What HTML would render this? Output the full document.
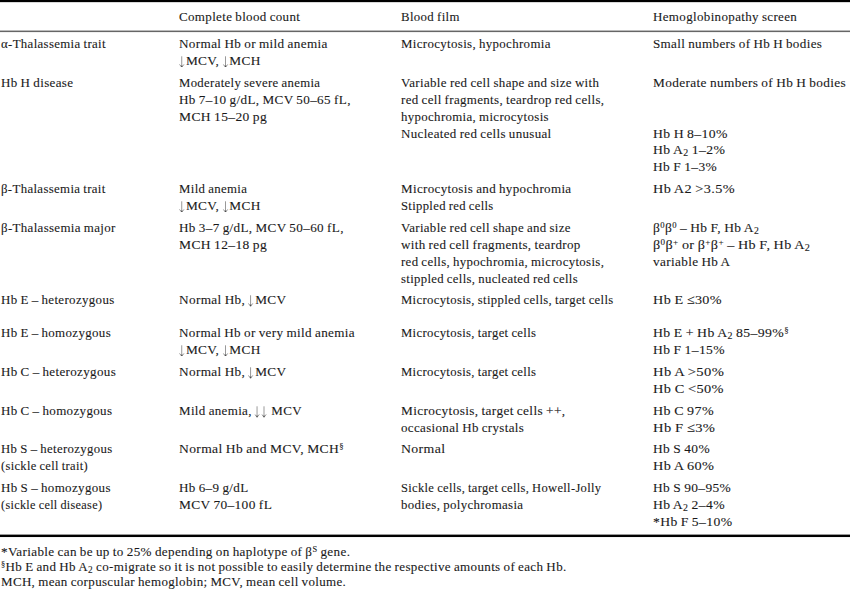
<!DOCTYPE html>
<html><head><meta charset="utf-8"><style>
html,body{margin:0;padding:0;background:#fff;}
body{width:850px;height:589px;position:relative;overflow:hidden;font-family:"Liberation Serif",serif;color:#1a1a1a;}
.l{position:absolute;white-space:nowrap;line-height:1;letter-spacing:0.35px;word-spacing:-0.6px;-webkit-text-stroke:0.1px #1a1a1a;transform-origin:0 0;}
.r{position:absolute;left:0;width:850px;background:#111;}
.ar{display:inline-block;vertical-align:-2.4px;margin-right:0.2px}
sub{font-size:0.72em;vertical-align:-0.25em;line-height:0;}
sup{font-size:0.64em;vertical-align:0.45em;line-height:0;}
</style></head><body>
<div class="r" style="top:0;height:2px;background:#000"></div>
<div class="r" style="top:2px;height:1px;background:#d8d8d8"></div>
<div class="r" style="top:30px;height:1px;background:#bbb"></div>
<div class="r" style="top:31px;height:1px;background:#666"></div>
<div class="r" style="top:32px;height:1px;background:#f0f0f0"></div>
<div class="r" style="top:534px;height:1px;background:#999"></div>
<div class="r" style="top:535px;height:2px;background:#000"></div>
<div class="r" style="top:537px;height:1px;background:#f4f4f4"></div>
<div class="l" style="left:179.3px;top:10.13px;font-size:13.1px;transform:scaleX(0.9926)">Complete blood count</div>
<div class="l" style="left:400.5px;top:10.13px;font-size:13.1px;transform:scaleX(0.9798)">Blood film</div>
<div class="l" style="left:652.9px;top:10.13px;font-size:13.1px;transform:scaleX(0.9924)">Hemoglobinopathy screen</div>
<div class="l" style="left:1.0px;top:37.13px;font-size:13.1px;transform:scaleX(0.9794)">α-Thalassemia trait</div>
<div class="l" style="left:179.3px;top:37.13px;font-size:13.1px;transform:scaleX(1.0061)">Normal Hb or mild anemia</div>
<div class="l" style="left:179.3px;top:53.98px;font-size:13.1px;transform:scaleX(1.0178)"><svg class="ar" width="6.6" height="11.5" viewBox="0 0 6.6 11.5"><path d="M2.7 0.3V11.2M0.5 8.4L2.7 11.3L4.9 8.4" stroke="#777" stroke-width="0.75" fill="none"/><path d="M1.7 9.7H3.7L2.7 11.3Z" fill="#444"/></svg>MCV, <svg class="ar" width="6.6" height="11.5" viewBox="0 0 6.6 11.5"><path d="M2.7 0.3V11.2M0.5 8.4L2.7 11.3L4.9 8.4" stroke="#777" stroke-width="0.75" fill="none"/><path d="M1.7 9.7H3.7L2.7 11.3Z" fill="#444"/></svg>MCH</div>
<div class="l" style="left:400.5px;top:37.13px;font-size:13.1px;transform:scaleX(0.9842)">Microcytosis, hypochromia</div>
<div class="l" style="left:652.9px;top:37.13px;font-size:13.1px">Small numbers of Hb H bodies</div>
<div class="l" style="left:1.0px;top:76.13px;font-size:13.1px;transform:scaleX(0.9931)">Hb H disease</div>
<div class="l" style="left:179.3px;top:76.13px;font-size:13.1px;transform:scaleX(0.9724)">Moderately severe anemia</div>
<div class="l" style="left:179.3px;top:92.98px;font-size:13.1px;transform:scaleX(1.0047)">Hb 7–10 g/dL, MCV 50–65 fL,</div>
<div class="l" style="left:179.3px;top:109.83px;font-size:13.1px;transform:scaleX(1.0335)">MCH 15–20 pg</div>
<div class="l" style="left:400.5px;top:76.13px;font-size:13.1px;transform:scaleX(0.9885)">Variable red cell shape and size with</div>
<div class="l" style="left:400.5px;top:92.98px;font-size:13.1px;transform:scaleX(0.9878)">red cell fragments, teardrop red cells,</div>
<div class="l" style="left:400.5px;top:109.83px;font-size:13.1px;transform:scaleX(0.9814)">hypochromia, microcytosis</div>
<div class="l" style="left:400.5px;top:126.68px;font-size:13.1px;transform:scaleX(0.9907)">Nucleated red cells unusual</div>
<div class="l" style="left:652.9px;top:76.13px;font-size:13.1px;transform:scaleX(1.0164)">Moderate numbers of Hb H bodies</div>
<div class="l" style="left:652.9px;top:126.68px;font-size:13.1px;transform:scaleX(1.0478)">Hb H 8–10%</div>
<div class="l" style="left:652.9px;top:142.93px;font-size:13.1px;transform:scaleX(1.0485)">Hb A<sub>2</sub> 1–2%</div>
<div class="l" style="left:652.9px;top:160.38px;font-size:13.1px;transform:scaleX(1.0274)">Hb F 1–3%</div>
<div class="l" style="left:1.0px;top:182.13px;font-size:13.1px;transform:scaleX(0.9794)">β-Thalassemia trait</div>
<div class="l" style="left:179.3px;top:182.13px;font-size:13.1px;transform:scaleX(0.9785)">Mild anemia</div>
<div class="l" style="left:179.3px;top:198.98px;font-size:13.1px;transform:scaleX(1.0178)"><svg class="ar" width="6.6" height="11.5" viewBox="0 0 6.6 11.5"><path d="M2.7 0.3V11.2M0.5 8.4L2.7 11.3L4.9 8.4" stroke="#777" stroke-width="0.75" fill="none"/><path d="M1.7 9.7H3.7L2.7 11.3Z" fill="#444"/></svg>MCV, <svg class="ar" width="6.6" height="11.5" viewBox="0 0 6.6 11.5"><path d="M2.7 0.3V11.2M0.5 8.4L2.7 11.3L4.9 8.4" stroke="#777" stroke-width="0.75" fill="none"/><path d="M1.7 9.7H3.7L2.7 11.3Z" fill="#444"/></svg>MCH</div>
<div class="l" style="left:400.5px;top:182.13px;font-size:13.1px;transform:scaleX(0.9941)">Microcytosis and hypochromia</div>
<div class="l" style="left:400.5px;top:198.98px;font-size:13.1px;transform:scaleX(0.9644)">Stippled red cells</div>
<div class="l" style="left:652.9px;top:182.13px;font-size:13.1px;transform:scaleX(1.0904)">Hb A2 &gt;3.5%</div>
<div class="l" style="left:1.0px;top:221.13px;font-size:13.1px;transform:scaleX(0.9853)">β-Thalassemia major</div>
<div class="l" style="left:179.3px;top:221.13px;font-size:13.1px;transform:scaleX(1.0043)">Hb 3–7 g/dL, MCV 50–60 fL,</div>
<div class="l" style="left:179.3px;top:237.98px;font-size:13.1px;transform:scaleX(1.0335)">MCH 12–18 pg</div>
<div class="l" style="left:400.5px;top:221.13px;font-size:13.1px;transform:scaleX(0.9826)">Variable red cell shape and size</div>
<div class="l" style="left:400.5px;top:237.98px;font-size:13.1px;transform:scaleX(0.9961)">with red cell fragments, teardrop</div>
<div class="l" style="left:400.5px;top:254.83px;font-size:13.1px;transform:scaleX(0.9792)">red cells, hypochromia, microcytosis,</div>
<div class="l" style="left:400.5px;top:271.68px;font-size:13.1px;transform:scaleX(0.9697)">stippled cells, nucleated red cells</div>
<div class="l" style="left:652.9px;top:221.13px;font-size:13.1px;transform:scaleX(1.0313)">β<sup>0</sup>β<sup>0</sup> – Hb F, Hb A<sub>2</sub></div>
<div class="l" style="left:652.9px;top:237.98px;font-size:13.1px;transform:scaleX(1.0826)">β<sup>0</sup>β<sup>+</sup> or β<sup>+</sup>β<sup>+</sup> – Hb F, Hb A<sub>2</sub></div>
<div class="l" style="left:652.9px;top:254.83px;font-size:13.1px;transform:scaleX(1.0092)">variable Hb A</div>
<div class="l" style="left:1.0px;top:293.13px;font-size:13.1px;transform:scaleX(0.9877)">Hb E – heterozygous</div>
<div class="l" style="left:179.3px;top:293.13px;font-size:13.1px;transform:scaleX(1.0123)">Normal Hb, <svg class="ar" width="6.6" height="11.5" viewBox="0 0 6.6 11.5"><path d="M2.7 0.3V11.2M0.5 8.4L2.7 11.3L4.9 8.4" stroke="#777" stroke-width="0.75" fill="none"/><path d="M1.7 9.7H3.7L2.7 11.3Z" fill="#444"/></svg>MCV</div>
<div class="l" style="left:400.5px;top:293.13px;font-size:13.1px;transform:scaleX(0.9693)">Microcytosis, stippled cells, target cells</div>
<div class="l" style="left:652.9px;top:293.13px;font-size:13.1px;transform:scaleX(1.0840)">Hb E ≤30%</div>
<div class="l" style="left:1.0px;top:326.13px;font-size:13.1px;transform:scaleX(0.9874)">Hb E – homozygous</div>
<div class="l" style="left:179.3px;top:326.13px;font-size:13.1px;transform:scaleX(1.0029)">Normal Hb or very mild anemia</div>
<div class="l" style="left:179.3px;top:342.98px;font-size:13.1px;transform:scaleX(1.0178)"><svg class="ar" width="6.6" height="11.5" viewBox="0 0 6.6 11.5"><path d="M2.7 0.3V11.2M0.5 8.4L2.7 11.3L4.9 8.4" stroke="#777" stroke-width="0.75" fill="none"/><path d="M1.7 9.7H3.7L2.7 11.3Z" fill="#444"/></svg>MCV, <svg class="ar" width="6.6" height="11.5" viewBox="0 0 6.6 11.5"><path d="M2.7 0.3V11.2M0.5 8.4L2.7 11.3L4.9 8.4" stroke="#777" stroke-width="0.75" fill="none"/><path d="M1.7 9.7H3.7L2.7 11.3Z" fill="#444"/></svg>MCH</div>
<div class="l" style="left:400.5px;top:326.13px;font-size:13.1px;transform:scaleX(0.9692)">Microcytosis, target cells</div>
<div class="l" style="left:652.9px;top:326.13px;font-size:13.1px;transform:scaleX(1.0539)">Hb E + Hb A<sub>2</sub> 85–99%<sup>§</sup></div>
<div class="l" style="left:652.9px;top:342.98px;font-size:13.1px;transform:scaleX(1.0396)">Hb F 1–15%</div>
<div class="l" style="left:1.0px;top:365.13px;font-size:13.1px;transform:scaleX(0.9939)">Hb C – heterozygous</div>
<div class="l" style="left:179.3px;top:365.13px;font-size:13.1px;transform:scaleX(1.0123)">Normal Hb, <svg class="ar" width="6.6" height="11.5" viewBox="0 0 6.6 11.5"><path d="M2.7 0.3V11.2M0.5 8.4L2.7 11.3L4.9 8.4" stroke="#777" stroke-width="0.75" fill="none"/><path d="M1.7 9.7H3.7L2.7 11.3Z" fill="#444"/></svg>MCV</div>
<div class="l" style="left:400.5px;top:365.13px;font-size:13.1px;transform:scaleX(0.9692)">Microcytosis, target cells</div>
<div class="l" style="left:652.9px;top:365.13px;font-size:13.1px;transform:scaleX(1.1141)">Hb A &gt;50%</div>
<div class="l" style="left:652.9px;top:381.98px;font-size:13.1px;transform:scaleX(1.0967)">Hb C &lt;50%</div>
<div class="l" style="left:1.0px;top:404.13px;font-size:13.1px;transform:scaleX(0.9929)">Hb C – homozygous</div>
<div class="l" style="left:179.3px;top:404.13px;font-size:13.1px;transform:scaleX(0.9919)">Mild anemia, <svg class="ar" width="6.6" height="11.5" viewBox="0 0 6.6 11.5"><path d="M2.7 0.3V11.2M0.5 8.4L2.7 11.3L4.9 8.4" stroke="#777" stroke-width="0.75" fill="none"/><path d="M1.7 9.7H3.7L2.7 11.3Z" fill="#444"/></svg><svg class="ar" width="6.6" height="11.5" viewBox="0 0 6.6 11.5"><path d="M2.7 0.3V11.2M0.5 8.4L2.7 11.3L4.9 8.4" stroke="#777" stroke-width="0.75" fill="none"/><path d="M1.7 9.7H3.7L2.7 11.3Z" fill="#444"/></svg> MCV</div>
<div class="l" style="left:400.5px;top:404.13px;font-size:13.1px;transform:scaleX(1.0168)">Microcytosis, target cells ++,</div>
<div class="l" style="left:400.5px;top:420.98px;font-size:13.1px;transform:scaleX(0.9903)">occasional Hb crystals</div>
<div class="l" style="left:652.9px;top:404.13px;font-size:13.1px;transform:scaleX(1.0713)">Hb C 97%</div>
<div class="l" style="left:652.9px;top:420.98px;font-size:13.1px;transform:scaleX(1.1125)">Hb F ≤3%</div>
<div class="l" style="left:1.0px;top:442.13px;font-size:13.1px;transform:scaleX(0.9754)">Hb S – heterozygous</div>
<div class="l" style="left:1.0px;top:458.98px;font-size:13.1px;transform:scaleX(0.9533)">(sickle cell trait)</div>
<div class="l" style="left:179.3px;top:442.13px;font-size:13.1px;transform:scaleX(1.0361)">Normal Hb and MCV, MCH<sup>§</sup></div>
<div class="l" style="left:400.5px;top:442.13px;font-size:13.1px;transform:scaleX(1.0543)">Normal</div>
<div class="l" style="left:652.9px;top:442.13px;font-size:13.1px;transform:scaleX(1.0272)">Hb S 40%</div>
<div class="l" style="left:652.9px;top:458.98px;font-size:13.1px;transform:scaleX(1.0926)">Hb A 60%</div>
<div class="l" style="left:1.0px;top:481.13px;font-size:13.1px;transform:scaleX(0.9918)">Hb S – homozygous</div>
<div class="l" style="left:1.0px;top:497.98px;font-size:13.1px;transform:scaleX(0.9324)">(sickle cell disease)</div>
<div class="l" style="left:179.3px;top:481.13px;font-size:13.1px;transform:scaleX(0.9985)">Hb 6–9 g/dL</div>
<div class="l" style="left:179.3px;top:497.98px;font-size:13.1px;transform:scaleX(1.0223)">MCV 70–100 fL</div>
<div class="l" style="left:400.5px;top:481.13px;font-size:13.1px;transform:scaleX(0.9547)">Sickle cells, target cells, Howell-Jolly</div>
<div class="l" style="left:400.5px;top:497.98px;font-size:13.1px;transform:scaleX(0.9823)">bodies, polychromasia</div>
<div class="l" style="left:652.9px;top:481.13px;font-size:13.1px;transform:scaleX(1.0266)">Hb S 90–95%</div>
<div class="l" style="left:652.9px;top:497.98px;font-size:13.1px;transform:scaleX(1.0455)">Hb A<sub>2</sub> 2–4%</div>
<div class="l" style="left:652.9px;top:514.83px;font-size:13.1px;transform:scaleX(1.0426)">*Hb F 5–10%</div>
<div class="l" style="left:1.0px;top:545.21px;font-size:13.0px;transform:scaleX(1.0099)">*Variable can be up to 25% depending on haplotype of β<sup>S</sup> gene.</div>
<div class="l" style="left:1.0px;top:560.21px;font-size:13.0px;transform:scaleX(1.0025)"><sup>§</sup>Hb E and Hb A<sub>2</sub> co-migrate so it is not possible to easily determine the respective amounts of each Hb.</div>
<div class="l" style="left:1.0px;top:575.21px;font-size:13.0px;transform:scaleX(0.9980)">MCH, mean corpuscular hemoglobin; MCV, mean cell volume.</div>
</body></html>
